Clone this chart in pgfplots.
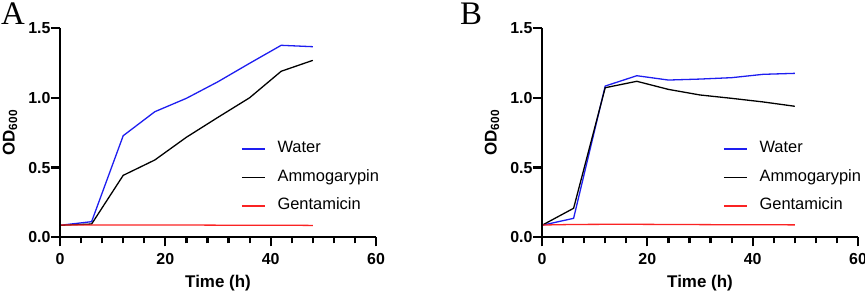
\documentclass[border=0pt]{standalone}
\usepackage{fontspec}
\setmainfont{Liberation Sans}
\newfontfamily\serifletter{Liberation Serif}
\usepackage{pgfplots}
\pgfplotsset{compat=1.18}
\definecolor{wblue}{RGB}{30,30,240}
\definecolor{gred}{RGB}{250,35,35}

\pgfplotsset{
  panel/.style={
    scale only axis, width=316bp, height=209.3bp,
    xmin=0, xmax=60, ymin=0, ymax=1.5,
    xtick={0,20,40,60}, minor x tick num=4,
    ytick={0,0.5,1,1.5},
    xtick pos=bottom, ytick pos=left, tick align=outside,
    major tick length=9bp, minor tick length=6bp,
    major tick style={black, line width=2.2bp},
    minor tick style={black, line width=2.2bp},
    axis line style={draw=none},
    after end axis/.code={\draw[black, line width=2.2bp] (rel axis cs:0,1) -- (rel axis cs:0,0) -- (rel axis cs:1,0);},
    /pgf/number format/assume math mode=true,
    tick label style={font=\fontsize{16}{16}\selectfont\bfseries},
    xticklabel style={yshift=-3.5bp},
    yticklabel style={xshift=3bp, /pgf/number format/.cd, fixed, fixed zerofill, precision=1},
    xlabel={Time (h)},
    ylabel={OD\textsubscript{600}},
    every axis x label/.style={at={(rel axis cs:0.5,0)}, yshift=-46bp, anchor=center, font=\fontsize{17}{17}\selectfont\bfseries},
    every axis y label/.style={at={(rel axis cs:0,0.5)}, xshift=-50bp, rotate=90, anchor=center, font=\fontsize{17}{17}\selectfont\bfseries},
    legend image code/.code={\draw[#1] (0bp,0bp) -- (23bp,0bp);},
    legend cell align=left,
    legend style={draw=none, fill=none, at={(0.573,0.4615)}, anchor=north west,
      inner sep=0pt, row sep=12.5bp, column sep=12bp,
      font=\fontsize{16.5}{16.5}\selectfont,
      nodes={inner sep=0pt, text height=12bp, text depth=4bp}},
  },
}

\begin{document}
\begin{tikzpicture}
\path[use as bounding box] (0,0) rectangle (865bp,293bp);
\node[font=\serifletter\fontsize{33}{33}\selectfont, anchor=base west, inner sep=0pt] at (1bp,268bp) {A};
\node[font=\serifletter\fontsize{33}{33}\selectfont, anchor=base west, inner sep=0pt] at (460bp,268bp) {B};

\begin{axis}[panel, at={(60bp,55.7bp)}, anchor=south west]
\addplot[wblue, line width=1.3bp] coordinates {(0,0.086)(6,0.112)(12,0.728)(18,0.900)(24,0.996)(30,1.115)(36,1.247)(42,1.376)(48,1.366)};
\addlegendentry{Water}
\addplot[black, line width=1.3bp] coordinates {(0,0.086)(6,0.095)(12,0.444)(18,0.554)(24,0.717)(30,0.860)(36,1.000)(42,1.190)(48,1.268)};
\addlegendentry{Ammogarypin}
\addplot[gred, line width=1.3bp] coordinates {(0,0.088)(6,0.088)(12,0.088)(18,0.088)(24,0.088)(30,0.087)(36,0.087)(42,0.087)(48,0.085)};
\addlegendentry{Gentamicin}
\end{axis}

\begin{axis}[panel, at={(542bp,55.7bp)}, anchor=south west]
\addplot[wblue, line width=1.3bp] coordinates {(0,0.086)(6,0.136)(12,1.084)(18,1.158)(24,1.127)(30,1.134)(36,1.144)(42,1.168)(48,1.175)};
\addlegendentry{Water}
\addplot[black, line width=1.3bp] coordinates {(0,0.086)(6,0.208)(12,1.072)(18,1.118)(24,1.060)(30,1.020)(36,0.996)(42,0.970)(48,0.939)};
\addlegendentry{Ammogarypin}
\addplot[gred, line width=1.3bp] coordinates {(0,0.088)(6,0.092)(12,0.093)(18,0.093)(24,0.092)(30,0.091)(36,0.090)(42,0.090)(48,0.089)};
\addlegendentry{Gentamicin}
\end{axis}
\end{tikzpicture}
\end{document}
